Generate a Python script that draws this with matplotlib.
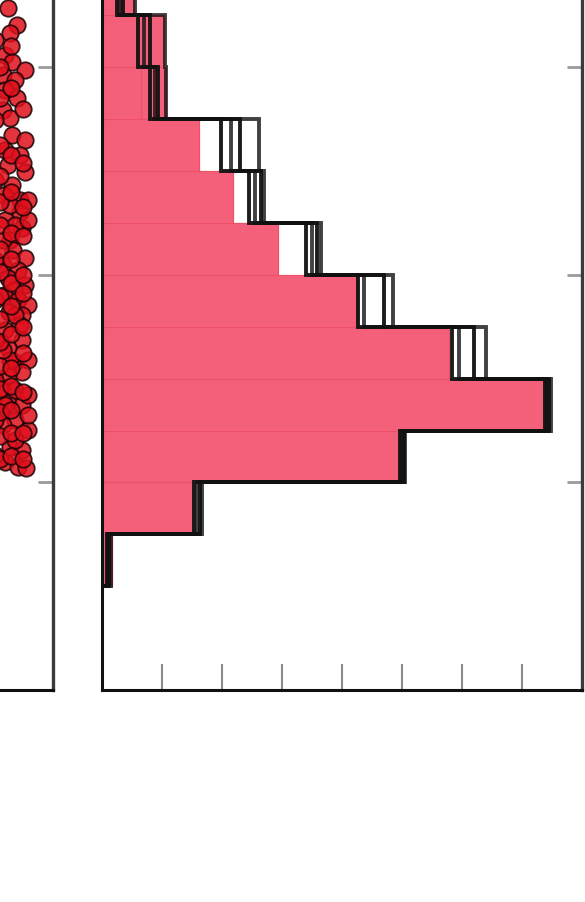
import numpy as np
import matplotlib
matplotlib.use("Agg")
import matplotlib.pyplot as plt

# histogram bins (lower edges), counts
bin_edges = np.arange(2, 15)
fill_low = [0.17, 1.52, 4.95, 7.40, 5.78, 4.27, 2.93, 2.18, 1.62, 0.65, 0.60, 0.53]
fill_high = [0.17, 1.52, 4.95, 7.40, 5.78, 4.27, 2.93, 2.18, 1.62, 1.07, 1.03, 0.53]
runs = [
    [0.08, 1.53, 4.97, 7.38, 5.83, 4.27, 3.40, 2.45, 1.98, 0.80, 0.60, 0.25],
    [0.10, 1.58, 5.00, 7.42, 5.95, 4.37, 3.50, 2.55, 2.15, 0.88, 0.70, 0.30],
    [0.12, 1.63, 5.03, 7.45, 6.20, 4.70, 3.58, 2.65, 2.30, 0.93, 0.80, 0.35],
    [0.15, 1.66, 5.05, 7.48, 6.40, 4.85, 3.65, 2.70, 2.62, 1.07, 1.05, 0.55],
]

# scatter points (right edge of the left panel)
pts_x = [2.55, 2.64, 2.57, 2.52, 2.59, 2.72, 2.50, 2.62, 2.52, 2.64, 2.50, 2.57,
         2.59, 2.72, 2.52, 2.67, 2.55, 2.72, 2.59, 2.51, 2.67, 2.67, 2.52, 2.69,
         2.57, 2.60, 2.72, 2.50, 2.65, 2.55, 2.72, 2.61, 2.51, 2.65, 2.75, 2.56,
         2.69, 2.52, 2.67, 2.69, 2.55, 2.62, 2.75, 2.49, 2.69, 2.55, 2.55, 2.69,
         2.62, 2.50, 2.75, 2.57, 2.69, 2.52, 2.65, 2.73, 2.62, 2.52, 2.75, 2.62,
         2.75, 2.57, 2.50, 2.62, 2.50, 2.62, 2.75, 2.75, 2.57, 2.42, 2.42, 2.42,
         2.42, 2.42, 2.42, 2.42, 2.42, 2.42,
         2.47, 2.47, 2.47, 2.47, 2.47, 2.47, 2.47, 2.47, 2.47, 2.47, 2.47, 2.47,
         2.47, 2.47, 2.47, 2.47,
         2.58, 2.58, 2.58, 2.58, 2.58, 2.58, 2.58, 2.58, 2.58, 2.58, 2.58, 2.58,
         2.58, 2.58,
         2.70, 2.70, 2.70, 2.70, 2.70, 2.70, 2.70, 2.70, 2.70, 2.70, 2.70]
pts_y = [13.14, 12.81, 12.66, 12.23, 12.10, 11.95, 11.85, 11.75, 11.56, 11.41, 11.18, 11.02,
         10.69, 10.60, 10.40, 10.31, 10.12, 9.98, 9.73, 9.54, 9.44, 9.21, 9.06, 8.90,
         8.67, 8.48, 8.32, 8.19, 8.09, 7.94, 7.80, 7.71, 7.61, 7.51, 7.42, 7.28,
         7.23, 6.94, 7.03, 6.74, 6.59, 6.32, 6.36, 5.82, 6.13, 6.07, 5.53, 5.49,
         5.20, 5.11, 5.01, 4.68, 4.62, 4.39, 4.30, 4.28, 5.78, 5.49, 5.68, 4.82,
         5.30, 6.36, 6.55, 7.23, 8.67, 8.96, 9.06, 9.44, 9.35, 9.83, 8.29, 6.74,
         5.20, 10.98, 12.52, 7.51, 5.97, 4.53,
         4.45, 4.90, 5.35, 5.80, 6.25, 6.70, 7.15, 7.60, 8.05, 8.50, 8.95, 9.40,
         9.90, 10.50, 11.40, 12.00,
         4.50, 4.95, 5.40, 5.85, 6.20, 6.85, 7.40, 7.85, 8.30, 8.80, 9.60, 10.30,
         11.60, 12.40,
         4.45, 4.95, 5.75, 6.50, 7.00, 7.65, 8.00, 8.75, 9.30, 10.15, 11.20]

W, H = 585, 902
fig = plt.figure(figsize=(W / 100, H / 100), dpi=100)

ax_bottom = (902 - 690) / H
ax_height = 14 * 51.9 / H

# left scatter panel (mostly outside the crop)
ax1 = fig.add_axes([-247 / W, ax_bottom, 300 / W, ax_height])
ax1.scatter(pts_x, pts_y, s=140, facecolor="#e0101c", edgecolor="#1a0305",
            linewidth=1.3, alpha=0.85)
ax1.set_xlim(0, 3)
ax1.set_ylim(0, 14)
ax1.set_yticks([4, 8, 12])
ax1.set_xticks([])
ax1.yaxis.tick_right()
ax1.tick_params(axis="y", direction="in", length=11, width=2, color="#9a9a9a",
                labelright=False)
for s in ["left", "top"]:
    ax1.spines[s].set_visible(False)
ax1.spines["right"].set_color("#3a3a40")
ax1.spines["right"].set_linewidth(2.4)
ax1.spines["bottom"].set_color("#111111")
ax1.spines["bottom"].set_linewidth(2.2)

# right histogram panel
ax2 = fig.add_axes([102 / W, ax_bottom, 480 / W, ax_height])
lows = bin_edges[:-1]
ax2.barh(lows, fill_high, height=1, align="edge", color="#f4607a",
         edgecolor="#ee4f69", linewidth=0.8)
ax2.barh(lows, fill_low, height=1, align="edge", color="#f4607a",
         edgecolor="#ee4f69", linewidth=0.8)
for i, r in enumerate(runs):
    ax2.stairs(r, bin_edges, orientation="horizontal", color="#111111",
               linewidth=2.8, alpha=0.95 if i % 2 == 0 else 0.8)
ax2.set_xlim(0, 8)
ax2.set_ylim(0, 14)
ax2.set_xticks(range(1, 8))
ax2.set_yticks([4, 8, 12])
ax2.yaxis.tick_right()
ax2.tick_params(axis="y", direction="in", length=11, width=2, color="#9a9a9a",
                labelright=False)
ax2.tick_params(axis="x", direction="in", length=19, width=1.5, color="#8a8a90",
                labelbottom=False)
ax2.spines["top"].set_visible(False)
ax2.spines["left"].set_color("#111111")
ax2.spines["left"].set_linewidth(2.2)
ax2.spines["right"].set_color("#3a3a40")
ax2.spines["right"].set_linewidth(2.4)
ax2.spines["bottom"].set_color("#111111")
ax2.spines["bottom"].set_linewidth(2.2)

fig.savefig("out.png", dpi=100)
